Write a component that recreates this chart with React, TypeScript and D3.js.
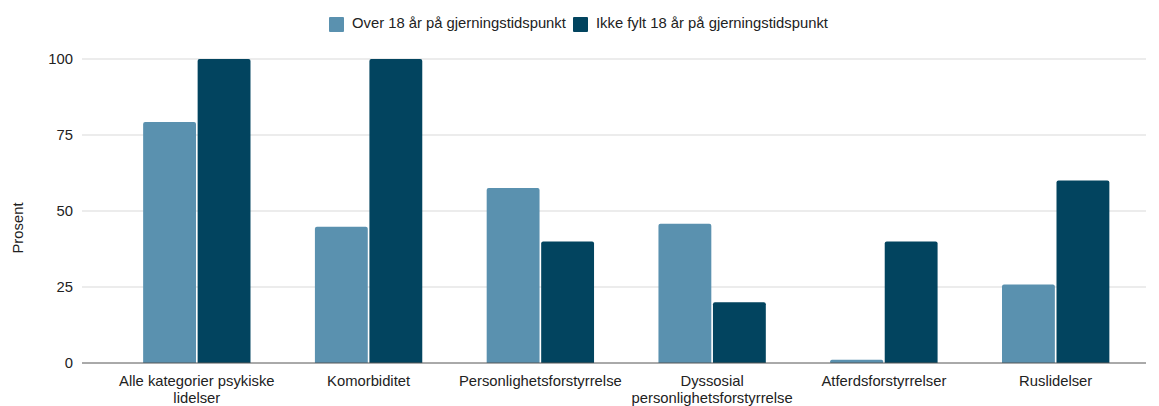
import React, { useEffect, useRef } from "react";
import * as d3 from "d3";

const categories = [
  ["Alle kategorier psykiske", "lidelser"],
  ["Komorbiditet"],
  ["Personlighetsforstyrrelse"],
  ["Dyssosial", "personlighetsforstyrrelse"],
  ["Atferdsforstyrrelser"],
  ["Ruslidelser"],
];
const seriesNames = ["Over 18 år på gjerningstidspunkt", "Ikke fylt 18 år på gjerningstidspunkt"];
const over18 = [79.3, 44.8, 57.6, 45.8, 1.1, 25.8];
const under18 = [100, 100, 40, 20, 40, 60];
const yTicks = [0, 25, 50, 75, 100];
const colors = ["#5a91af", "#02445f"];

const App = () => {
  const svgRef = useRef<SVGSVGElement>(null);

  useEffect(() => {
    const svg = d3.select(svgRef.current);
    svg.selectAll("*").remove();

    const width = 1159, height = 406;
    const gridLeft = 82, gridRight = 1146;
    const top = 59, bottom = 363;
    const font = "'Liberation Sans', Arial, sans-serif";
    const fs = 14.8;

    const y = d3.scaleLinear().domain([0, 100]).range([bottom, top]);
    const x0 = d3.scaleBand<number>()
      .domain(d3.range(categories.length))
      .range([110.5, 1142])
      .paddingInner(0.375)
      .paddingOuter(0.19);
    const x1 = d3.scaleBand<number>()
      .domain([0, 1])
      .range([0, x0.bandwidth()])
      .paddingInner(0.03);

    // grid
    svg.append("g")
      .selectAll("line")
      .data(yTicks.filter(t => t > 0))
      .join("line")
      .attr("x1", gridLeft).attr("x2", gridRight)
      .attr("y1", d => y(d)).attr("y2", d => y(d))
      .attr("stroke", "#d9d9d9").attr("stroke-width", 1);

    svg.append("g")
      .selectAll("text")
      .data(yTicks)
      .join("text")
      .attr("x", 73).attr("y", d => y(d) + 5)
      .attr("text-anchor", "end")
      .attr("font-family", font).attr("font-size", fs)
      .attr("fill", "#222")
      .text(d => d);

    svg.append("text")
      .attr("transform", `translate(23,${(top + bottom) / 2 + 17}) rotate(-90)`)
      .attr("text-anchor", "middle")
      .attr("font-family", font).attr("font-size", fs)
      .attr("fill", "#222")
      .text("Prosent");

    // bars
    const series = [over18, under18];
    const groups = svg.append("g")
      .selectAll("g")
      .data(categories.map((_, i) => i))
      .join("g")
      .attr("transform", i => `translate(${x0(i)},0)`);

    groups.selectAll("path")
      .data(i => series.map((s, k) => ({ k, v: s[i] })))
      .join("path")
      .attr("fill", d => colors[d.k])
      .attr("d", d => {
        const x = x1(d.k)!, w = x1.bandwidth();
        const yt = y(d.v), r = Math.min(2, (bottom - yt) / 2);
        return `M${x},${bottom}V${yt + r}Q${x},${yt} ${x + r},${yt}H${x + w - r}Q${x + w},${yt} ${x + w},${yt + r}V${bottom}Z`;
      });

    // baseline
    svg.append("line")
      .attr("x1", gridLeft).attr("x2", gridRight)
      .attr("y1", bottom).attr("y2", bottom)
      .attr("stroke", "#555").attr("stroke-width", 1);

    // x labels
    const labels = svg.append("g")
      .selectAll("text")
      .data(categories)
      .join("text")
      .attr("x", (_, i) => x0(i)! + x0.bandwidth() / 2)
      .attr("y", 386)
      .attr("text-anchor", "middle")
      .attr("font-family", font).attr("font-size", fs)
      .attr("fill", "#222");
    labels.selectAll("tspan")
      .data(d => d)
      .join("tspan")
      .attr("x", function () { return (this.parentNode as SVGTextElement).getAttribute("x"); })
      .attr("dy", (_, j) => (j === 0 ? 0 : 17))
      .text(d => d);

    // legend
    const legendX = [329, 573];
    const legend = svg.append("g")
      .selectAll("g")
      .data(seriesNames)
      .join("g")
      .attr("transform", (_, i) => `translate(${legendX[i]},17)`);
    legend.append("rect")
      .attr("width", 15).attr("height", 15).attr("rx", 1)
      .attr("fill", (_, i) => colors[i]);
    legend.append("text")
      .attr("x", 23).attr("y", 11)
      .attr("font-family", font).attr("font-size", fs)
      .attr("fill", "#222")
      .text(d => d);

    svg.attr("width", width).attr("height", height);
  }, []);

  return (
    <div style={{ position: "absolute", left: 0, top: 0 }}>
      <svg ref={svgRef} width={1159} height={406} style={{ display: "block", background: "#fff" }}></svg>
    </div>
  );
};

export default App;
